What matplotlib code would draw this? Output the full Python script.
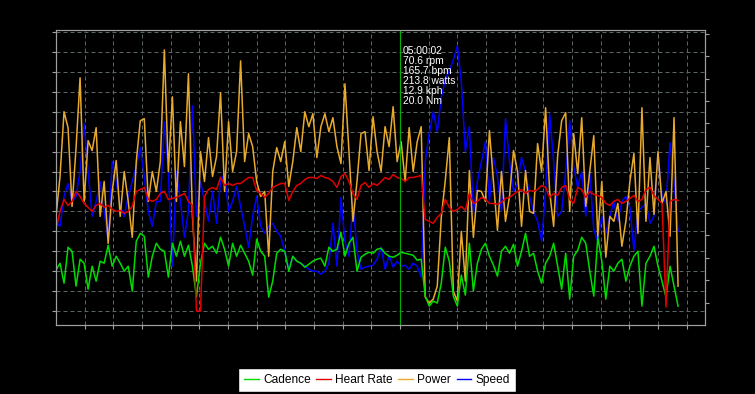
import numpy as np
import matplotlib.pyplot as plt
from matplotlib.lines import Line2D

# minutes between samples
step_min = 3.5

# values on the chart's shared scale (one grid step = 20)
cadence = [41, 48, 28, 64, 60, 25, 52, 48, 22, 45, 30, 50, 48, 66, 45, 55, 48, 40, 45, 20, 70, 78, 75, 34, 55, 68,
           62, 60, 34, 68, 55, 70, 55, 66, 45, 14, 48, 68, 62, 65, 58, 74, 62, 45, 68, 55, 66, 58, 50, 36, 72, 60,
           55, 14, 30, 58, 62, 60, 40, 55, 50, 48, 44, 47, 50, 52, 53, 45, 64, 60, 62, 79, 55, 68, 74, 40, 54, 57,
           59, 58, 62, 63, 58, 55, 54, 56, 59, 58, 57, 56, 51, 52, 15, 5, 10, 8, 28, 64, 50, 15, 5, 36, 16, 68,
           20, 48, 62, 68, 55, 46, 35, 60, 65, 58, 67, 45, 60, 78, 55, 58, 40, 28, 48, 55, 68, 45, 22, 58, 12, 55,
           61, 74, 68, 40, 15, 74, 50, 12, 45, 40, 48, 52, 30, 45, 55, 60, 5, 48, 55, 65, 45, 30, 14, 45, 25, 5]

heart_rate = [82, 100, 112, 106, 110, 120, 115, 108, 104, 100, 106, 108, 104, 106, 102, 100, 101, 98, 100, 105, 120, 122, 124, 112, 110, 112,
              118, 120, 112, 113, 114, 116, 118, 110, 106, 0, 0, 115, 122, 124, 122, 134, 126, 128, 126, 128, 128, 131, 134, 134, 121, 118,
              114, 118, 124, 126, 128, 128, 111, 120, 126, 128, 132, 134, 134, 133, 136, 134, 133, 130, 124, 135, 138, 130, 118, 112, 126, 129,
              124, 128, 126, 130, 134, 132, 137, 134, 133, 130, 134, 134, 135, 136, 92, 90, 88, 94, 98, 112, 104, 100, 102, 105, 101, 118,
              108, 110, 114, 112, 108, 108, 107, 109, 113, 114, 117, 120, 122, 118, 121, 120, 122, 126, 124, 114, 118, 116, 124, 126, 112, 108,
              124, 122, 114, 120, 117, 116, 114, 108, 106, 110, 112, 108, 110, 113, 116, 110, 112, 122, 124, 116, 112, 108, 4, 110, 112, 111]

power = [95, 135, 200, 184, 105, 164, 234, 110, 171, 161, 184, 95, 130, 68, 120, 151, 95, 140, 110, 74, 150, 191, 193, 110, 140, 120,
         150, 262, 140, 215, 110, 190, 145, 238, 95, 30, 160, 130, 174, 135, 155, 219, 120, 190, 140, 160, 251, 150, 178, 165, 130, 115,
         120, 55, 140, 164, 150, 170, 125, 150, 184, 160, 200, 185, 198, 154, 185, 198, 180, 194, 165, 148, 228, 160, 90, 130, 178, 180,
         141, 195, 160, 140, 185, 165, 205, 150, 170, 130, 184, 140, 170, 185, 14, 8, 12, 25, 94, 131, 174, 20, 10, 80, 30, 141,
         74, 121, 120, 110, 181, 130, 81, 140, 90, 115, 161, 140, 85, 141, 100, 98, 168, 140, 204, 120, 85, 156, 191, 199, 100, 178,
         138, 194, 105, 140, 176, 75, 130, 54, 95, 90, 108, 65, 90, 130, 158, 78, 204, 90, 154, 97, 160, 108, 120, 75, 194, 25]

speed = [90, 85, 115, 128, 110, 115, 140, 188, 140, 95, 110, 130, 100, 70, 150, 130, 105, 95, 115, 130, 145, 164, 135, 100, 85, 110,
         110, 190, 140, 45, 140, 110, 74, 100, 206, 95, 130, 110, 90, 120, 88, 130, 138, 100, 110, 125, 105, 85, 64, 95, 115, 85,
         78, 85, 88, 80, 75, 60, 42, 55, 50, 48, 45, 42, 40, 40, 37, 40, 48, 88, 45, 114, 70, 55, 110, 60, 42, 44,
         45, 46, 52, 64, 42, 56, 44, 50, 45, 46, 42, 48, 45, 34, 150, 178, 200, 180, 214, 232, 241, 252, 266, 230, 160, 185,
         98, 130, 150, 170, 110, 154, 135, 100, 193, 150, 120, 128, 154, 140, 115, 100, 90, 70, 120, 198, 150, 95, 100, 140, 191, 145,
         124, 140, 95, 138, 82, 70, 95, 78, 95, 110, 90, 110, 115, 104, 61, 100, 104, 108, 88, 95, 158, 115, 108, 169, 130, 80]

# cursor readout
cursor_min = 300.03
cursor_text = ['05:00:02', '70.6 rpm', '165.7 bpm', '213.8 watts', '12.9 kph', '20.0 Nm']

labels = ['Cadence', 'Heart Rate', 'Power', 'Speed']
colors = ['#00dc00', '#e00000', '#e8aa2c', '#0000ff']

plt.rcParams['font.family'] = ['Liberation Sans', 'DejaVu Sans']

fig = plt.figure(figsize=(7.55, 3.94), dpi=100, facecolor='black')
ax = fig.add_axes([56 / 755, 69 / 394, 649 / 755, 295 / 394])
ax.set_facecolor('black')

t = np.arange(len(power)) * step_min

# speed at the back, heart rate on top
ax.plot(t, speed, color=colors[3], lw=1.1)
ax.plot(t, power, color=colors[2], lw=1.1)
ax.plot(t, cadence, color=colors[0], lw=1.1)
ax.plot(t, heart_rate, color=colors[1], lw=1.1)

ax.axvline(cursor_min, color='#00b000', lw=0.8)
for i, line in enumerate(cursor_text):
    ax.annotate(line, xy=(cursor_min, 1), xycoords=('data', 'axes fraction'),
                xytext=(2.2, -(24 + 10 * i) * 0.72), textcoords='offset points',
                color='white', fontsize=7.4, va='baseline')

ax.set_xlim(0, 566)
ax.set_ylim(-14, 282)
ax.set_xticks(np.arange(25, 551, 25))
ax.set_yticks(np.arange(0, 281, 20))
ax.grid(True, color='#5a6666', linestyle=(0, (4, 3)), lw=0.72)
ax.tick_params(colors='#a0a0a0', length=3, width=0.8,
               labelbottom=False, labelleft=False)
for sp in ax.spines.values():
    sp.set_color('#a0a0a0')

# right axis: ticks only
ax2 = ax.twinx()
ax2.set_ylim(0, 13.17)
ax2.set_yticks(np.arange(1, 14))
ax2.tick_params(colors='#a0a0a0', length=3, width=0.8, labelright=False)
for sp in ax2.spines.values():
    sp.set_color('#a0a0a0')

handles = [Line2D([], [], color=c, lw=1) for c in colors]
leg = fig.legend(handles, labels, loc='lower center', bbox_to_anchor=(377 / 755, 2 / 394),
                 ncol=4, fontsize=8.6, frameon=True, fancybox=False, framealpha=1,
                 facecolor='white', edgecolor='black', handlelength=1.25,
                 handletextpad=0.35, columnspacing=0.45, borderpad=0.5, borderaxespad=0)
for txt in leg.get_texts():
    txt.set_color('black')

fig.savefig('out.png', dpi=100, facecolor='black')
